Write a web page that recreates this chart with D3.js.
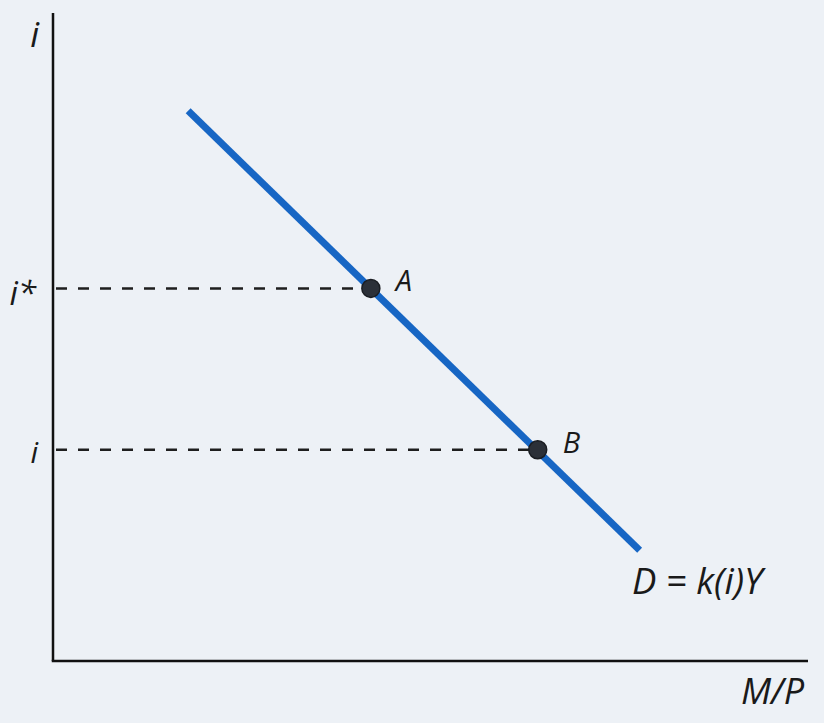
<!DOCTYPE html>
<html>
<head>
<meta charset="utf-8">
<script src="https://cdn.jsdelivr.net/npm/d3@7"></script>
<style>
  html, body { margin: 0; padding: 0; background: #edf1f6; }
  svg { display: block; }
  text { font-family: "Open Sans", sans-serif; font-style: italic; fill: #1a1a1a; }
</style>
</head>
<body>
<svg id="chart" width="824" height="723"></svg>
<script>
// Data (in abstract chart units)
const demandCurve = [ {x: 1.79, y: 8.49}, {x: 7.77, y: 1.71} ];
const points = [
  {name: "A", x: 4.21, y: 5.75, level: "i*"},
  {name: "B", x: 6.42, y: 3.26, level: "i"}
];
const curveLabel = "D = k(i)Y";
const xAxisLabel = "M/P";
const yAxisLabel = "i";

const svg = d3.select("#chart");
const W = 824, H = 723;
svg.append("rect").attr("width", W).attr("height", H).attr("fill", "#edf1f6");

const x = d3.scaleLinear().domain([0, 10]).range([53, 808]);
const y = d3.scaleLinear().domain([0, 10]).range([661, 13]);

// dashed guide lines
svg.selectAll("line.guide").data(points).enter().append("line")
  .attr("class", "guide")
  .attr("x1", x(0) + 3).attr("x2", d => x(d.x))
  .attr("y1", d => y(d.y)).attr("y2", d => y(d.y))
  .attr("stroke", "#1e1e1e").attr("stroke-width", 2.5)
  .attr("stroke-dasharray", "11,11");

// axes
const g = svg.append("g");
g.append("line").attr("x1", x(0)).attr("x2", x(0)).attr("y1", y(10)).attr("y2", y(0))
  .attr("stroke", "#111").attr("stroke-width", 2.5);
g.append("line").attr("x1", x(0) - 1.25).attr("x2", x(10)).attr("y1", y(0)).attr("y2", y(0))
  .attr("stroke", "#111").attr("stroke-width", 2.5);

// demand line
const line = d3.line().x(d => x(d.x)).y(d => y(d.y));
svg.append("path").datum(demandCurve).attr("d", line)
  .attr("stroke", "#1766c4").attr("stroke-width", 7).attr("fill", "none");

// points
svg.selectAll("circle.pt").data(points).enter().append("circle")
  .attr("cx", d => x(d.x)).attr("cy", d => y(d.y)).attr("r", 9)
  .attr("fill", "#2b3038").attr("stroke", "#1a1d22").attr("stroke-width", 1.5);

// point labels
svg.selectAll("text.pl").data(points).enter().append("text")
  .attr("x", d => x(d.x) + 25).attr("y", d => y(d.y) + 3)
  .attr("font-size", 29).text(d => d.name);

// level labels on y axis
svg.selectAll("text.lv").data(points).enter().append("text")
  .attr("x", d => d.level === "i*" ? 36 : 38).attr("y", d => y(d.y) + (d.level === "i*" ? 17 : 13))
  .attr("text-anchor", "end")
  .attr("font-size", d => d.level === "i*" ? 33 : 30)
  .text(d => d.level);

// axis labels
svg.append("text").attr("x", 39).attr("y", 47).attr("text-anchor", "end")
  .attr("font-size", 35).text(yAxisLabel);
svg.append("text").attr("x", 804).attr("y", 704).attr("text-anchor", "end")
  .attr("font-size", 36).text(xAxisLabel);
svg.append("text").attr("x", 632).attr("y", 594)
  .attr("font-size", 36.5).text(curveLabel);
</script>
</body>
</html>
